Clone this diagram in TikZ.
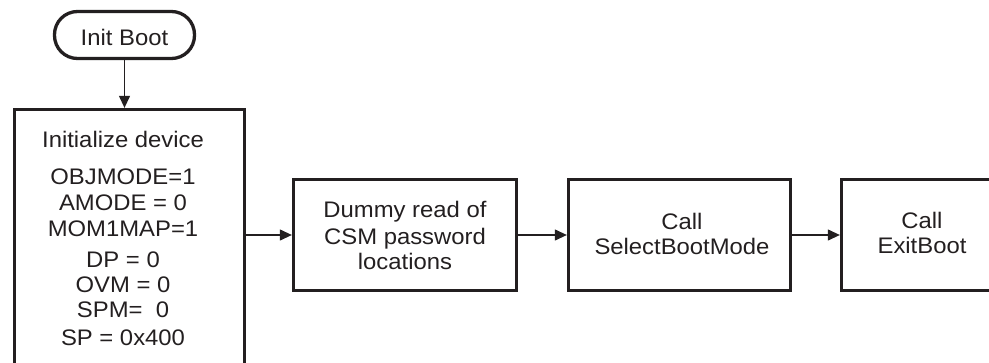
\documentclass[tikz,border=0pt]{standalone}
\usepackage{fontspec}
\setmainfont{Liberation Sans}[FakeStretch=1.06]
\usetikzlibrary{arrows.meta}
\definecolor{ink}{HTML}{231F20}
\tikzset{
  boxstyle/.style={draw=ink, line width=3.3pt, rectangle, inner sep=0pt},
  termstyle/.style={draw=ink, line width=3.3pt, rectangle, rounded corners=23pt, inner sep=0pt},
  txt/.style={anchor=base, inner sep=0pt, text=ink, font=\fontsize{22.5}{26}\selectfont},
  arr/.style={draw=ink, line width=1.2pt, -{Triangle[length=12pt,width=11pt]}}
}
\begin{document}
\begin{tikzpicture}[x=1pt,y=-1pt]
\useasboundingbox (0,0) rectangle (989,362);
% terminal
\node[termstyle, minimum width=140pt, minimum height=47pt] (init) at (124.5,35) {};
\node[txt] (initt) at (124.5,45) {Init Boot};
% boxes
\node[boxstyle, minimum width=230pt, minimum height=290.5pt] (box1) at (129.5,254.75) {};
\node[boxstyle, minimum width=223pt, minimum height=111pt] (box2) at (405,235) {};
\node[boxstyle, minimum width=222pt, minimum height=111pt] (box3) at (679.5,235) {};
\node[boxstyle, minimum width=162pt, minimum height=111pt] (box4) at (922.5,235) {};
% box1 text
\node[txt] (b1l1) at (123,147) {Initialize device};
\node[txt] (b1l2) at (123,184) {OBJMODE=1};
\node[txt] (b1l3) at (123,210) {AMODE = 0};
\node[txt] (b1l4) at (123,236) {MOM1MAP=1};
\node[txt] (b1l5) at (123,267) {DP = 0};
\node[txt] (b1l6) at (123,292) {OVM = 0};
\node[txt] (b1l7) at (123,317) {SPM=\ \ 0};
\node[txt] (b1l8) at (123,345) {SP = 0x400};
% box2 text
\node[txt] (b2l1) at (405,217) {Dummy read of};
\node[txt] (b2l2) at (405,244) {CSM password};
\node[txt] (b2l3) at (405,269) {locations};
% box3 text
\node[txt] (b3l1) at (682,229) {Call};
\node[txt] (b3l2) at (682,254) {SelectBootMode};
% box4 text
\node[txt] (b4l1) at (922,228) {Call};
\node[txt] (b4l2) at (922,253) {ExitBoot};
% connectors
\draw[arr] (init.south) -- (init.south |- box1.north);
\draw[arr] (box1.east |- box2.west) -- (box2.west);
\draw[arr] (box2.east) -- (box3.west);
\draw[arr] (box3.east) -- (box4.west);
\end{tikzpicture}
\end{document}
